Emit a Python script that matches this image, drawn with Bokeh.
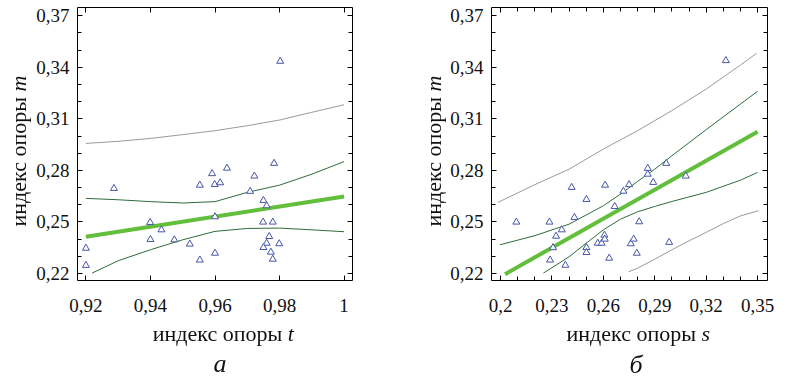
from bokeh.plotting import figure
from bokeh.models import Range1d, FixedTicker, LinearAxis, Div
from bokeh.layouts import row, column
from bokeh.embed import file_html
from bokeh.resources import INLINE

# ---------------- data: panel a (t vs m) ----------------
a_t = [0.9200, 0.9200, 0.9287, 0.9399, 0.9400, 0.9434, 0.9474, 0.9522, 0.9553, 0.9553,
       0.9591, 0.9599, 0.9616, 0.9637, 0.9600, 0.9600, 0.9709, 0.9722, 0.9750, 0.9760,
       0.9749, 0.9779, 0.9783, 0.9768, 0.9760, 0.9750, 0.9773, 0.9779, 0.9799, 0.9802]
a_m = [0.2347, 0.2247, 0.2695, 0.2497, 0.2398, 0.2454, 0.2396, 0.2371, 0.2714, 0.2278,
       0.2781, 0.2718, 0.2728, 0.2813, 0.2530, 0.2318, 0.2678, 0.2767, 0.2625, 0.2594,
       0.2499, 0.2499, 0.2841, 0.2415, 0.2376, 0.2351, 0.2324, 0.2283, 0.2373, 0.3435]

a_fit_x = [0.92, 1.00]
a_fit_y = [0.2414, 0.2648]

a_cu_x = [0.92, 0.93, 0.94, 0.95, 0.96, 0.97, 0.98, 0.99, 1.00]
a_cu_y = [0.2637, 0.2629, 0.2618, 0.2610, 0.2618, 0.2672, 0.2714, 0.2778, 0.2851]
a_cl_x = [0.9219, 0.93, 0.94, 0.95, 0.96, 0.97, 0.98, 0.99, 1.00]
a_cl_y = [0.2202, 0.2274, 0.2338, 0.2396, 0.2445, 0.2462, 0.2464, 0.2454, 0.2443]
a_pu_x = [0.92, 0.93, 0.94, 0.95, 0.96, 0.97, 0.98, 0.99, 1.00]
a_pu_y = [0.2957, 0.2969, 0.2986, 0.3008, 0.3031, 0.3060, 0.3093, 0.3138, 0.3182]

# ---------------- data: panel б (s vs m) ----------------
b_s = [0.2092, 0.2285, 0.2289, 0.2306, 0.2324, 0.2357, 0.2378, 0.2415, 0.2431, 0.2501,
       0.2501, 0.2501, 0.2567, 0.2590, 0.2606, 0.2608, 0.2610, 0.2634, 0.2666, 0.2717,
       0.2750, 0.2760, 0.2777, 0.2795, 0.2809, 0.2859, 0.2859, 0.2891, 0.2967, 0.2984,
       0.3081, 0.3315]
b_m = [0.2499, 0.2499, 0.2278, 0.2350, 0.2417, 0.2454, 0.2248, 0.2701, 0.2526, 0.2631,
       0.2351, 0.2322, 0.2376, 0.2376, 0.2423, 0.2400, 0.2714, 0.2289, 0.2590, 0.2679,
       0.2717, 0.2373, 0.2400, 0.2318, 0.2501, 0.2812, 0.2778, 0.2730, 0.2841, 0.2381,
       0.2767, 0.3439]

b_fit_x = [0.2026, 0.35]
b_fit_y = [0.2196, 0.3025]

b_cu_x = [0.1997, 0.22, 0.24, 0.26, 0.27, 0.28, 0.29, 0.30, 0.32, 0.34, 0.35]
b_cu_y = [0.2367, 0.2420, 0.2487, 0.2594, 0.2662, 0.2736, 0.2807, 0.2885, 0.3037, 0.3186, 0.3260]
b_cl_x = [0.2250, 0.24, 0.25, 0.26, 0.27, 0.28, 0.29, 0.30, 0.32, 0.34, 0.35]
b_cl_y = [0.2202, 0.2297, 0.2376, 0.2454, 0.2516, 0.2559, 0.2590, 0.2619, 0.2672, 0.2743, 0.2788]
b_pu_x = [0.1986, 0.22, 0.24, 0.26, 0.28, 0.30, 0.32, 0.34, 0.3494]
b_pu_y = [0.2614, 0.2717, 0.2807, 0.2924, 0.3031, 0.3148, 0.3273, 0.3413, 0.3481]
b_pl_x = [0.2748, 0.28, 0.29, 0.30, 0.31, 0.32, 0.33, 0.34, 0.3506]
b_pl_y = [0.2210, 0.2231, 0.2283, 0.2338, 0.2390, 0.2439, 0.2490, 0.2535, 0.2565]

# ---------------- ticks ----------------
y_ticks = [0.22, 0.25, 0.28, 0.31, 0.34, 0.37]
y_tick_labels = ["0,22", "0,25", "0,28", "0,31", "0,34", "0,37"]
y_minor = [0.22, 0.23, 0.24, 0.25, 0.26, 0.27, 0.28, 0.29, 0.30, 0.31, 0.32,
           0.33, 0.34, 0.35, 0.36, 0.37]
a_x_ticks = [0.92, 0.94, 0.96, 0.98, 1.0]
a_x_tick_labels = ["0,92", "0,94", "0,96", "0,98", "1"]
b_x_ticks = [0.20, 0.23, 0.26, 0.29, 0.32, 0.35]
b_x_tick_labels = ["0,2", "0,23", "0,26", "0,29", "0,32", "0,35"]
b_x_minor = [0.20, 0.21, 0.22, 0.23, 0.24, 0.25, 0.26, 0.27, 0.28, 0.29, 0.30,
             0.31, 0.32, 0.33, 0.34, 0.35]

y_title = "индекс опоры"
y_title_var = "m"
a_x_title = "индекс опоры"
a_x_var = "t"
b_x_title = "индекс опоры"
b_x_var = "s"
a_caption = "а"
b_caption = "б"

FONT = "Liberation Serif"
TICK_FS = "19px"
MARK = "#4656a8"
FIT = "#62bf3b"
CONF = "#2f6c3a"
PRED = "#9a9a9a"


def style_axis(ax, ticks, minor, labels, show_labels=True, standoff=8):
    ax.ticker = FixedTicker(ticks=ticks, minor_ticks=minor)
    ax.axis_line_color = None
    ax.major_tick_in = 5
    ax.major_tick_out = 0
    ax.minor_tick_in = 4
    ax.minor_tick_out = 0
    ax.major_tick_line_color = "black"
    ax.minor_tick_line_color = "black"
    if show_labels:
        ax.major_label_overrides = {t: l for t, l in zip(ticks, labels)}
        ax.major_label_text_font = FONT
        ax.major_label_text_font_size = TICK_FS
        ax.major_label_text_color = "#111111"
        ax.major_label_standoff = standoff
    else:
        ax.major_label_overrides = {t: "" for t in ticks}
        ax.major_label_text_font_size = "0px"
        ax.major_label_standoff = 0


FIG_H = 355


def make_panel(width, xr, yr, bl, br, xt, xminor, xtl):
    p = figure(width=width, height=FIG_H, x_range=Range1d(*xr), y_range=Range1d(*yr),
               output_backend="svg", toolbar_location=None,
               min_border_left=bl, min_border_right=br, min_border_top=7,
               min_border_bottom=FIG_H - 280, x_axis_location="below", y_axis_location="left")
    p.xgrid.visible = False
    p.ygrid.visible = False
    p.outline_line_color = "black"
    p.outline_line_width = 1
    p.background_fill_color = "white"
    p.border_fill_color = "white"
    style_axis(p.xaxis[0], xt, xminor, xtl, standoff=18)
    style_axis(p.yaxis[0], y_ticks, y_minor, y_tick_labels, standoff=8)
    top = LinearAxis()
    style_axis(top, xt, xminor, xtl, show_labels=False)
    p.add_layout(top, "above")
    right = LinearAxis()
    style_axis(right, y_ticks, y_minor, y_tick_labels, show_labels=False)
    p.add_layout(right, "right")
    return p


# ---------------- panel a ----------------
XA = (0.9174, 1.0026)
YR = (0.2159, 0.3748)
pa = make_panel(400, XA, YR, 77, 48, a_x_ticks, [], a_x_tick_labels)
pa.line(a_pu_x, a_pu_y, line_color=PRED, line_width=1)
pa.line(a_cu_x, a_cu_y, line_color=CONF, line_width=1)
pa.line(a_cl_x, a_cl_y, line_color=CONF, line_width=1)
pa.line(a_fit_x, a_fit_y, line_color=FIT, line_width=4)
pa.scatter(a_t, a_m, marker="triangle", size=7, line_color=MARK, fill_color="white",
           line_width=1)

# ---------------- panel б ----------------
XB = (0.1947, 0.3558)
pb = make_panel(379, XB, YR, 91, 12, b_x_ticks, b_x_minor, b_x_tick_labels)
pb.line(b_pu_x, b_pu_y, line_color=PRED, line_width=1)
pb.line(b_pl_x, b_pl_y, line_color=PRED, line_width=1)
pb.line(b_cu_x, b_cu_y, line_color=CONF, line_width=1)
pb.line(b_cl_x, b_cl_y, line_color=CONF, line_width=1)
pb.line(b_fit_x, b_fit_y, line_color=FIT, line_width=4)
pb.scatter(b_s, b_m, marker="triangle", size=7, line_color=MARK, fill_color="white",
           line_width=1)


# ---------------- axis titles and captions (HTML text, page-pixel positions) -------------
def box(cx, cy, html, size, rotate=False, w=220, h=30):
    rot = "transform:rotate(-90deg);transform-origin:50% 50%;" if rotate else ""
    return ('<div style="position:fixed;left:%.1fpx;top:%.1fpx;width:%dpx;height:%dpx;'
            'line-height:%dpx;text-align:center;white-space:nowrap;'
            "font-family:'Liberation Serif';font-size:%s;color:#111;%s\">%s</div>"
            % (cx - w / 2.0, cy - h / 2.0, w, h, h, size, rot, html))


yt = "%s <i>%s</i>" % (y_title, y_title_var)
html = "".join([
    box(19.3, 151.0, yt, "22px", rotate=True),
    box(434.3, 151.0, yt, "22px", rotate=True),
    box(223.3, 334.3, "%s <i>%s</i>" % (a_x_title, a_x_var), "22px"),
    box(638.3, 334.3, "%s <i>%s</i>" % (b_x_title, b_x_var), "22px"),
    box(220.0, 364.0, "<i>%s</i>" % a_caption, "26px", h=34),
    box(636.0, 365.3, "<i>%s</i>" % b_caption, "26px", h=34),
])
notes = Div(text=html, width=779, height=5)

layout = column(row(pa, pb), notes)
open("out.html", "w").write(file_html(layout, INLINE))
